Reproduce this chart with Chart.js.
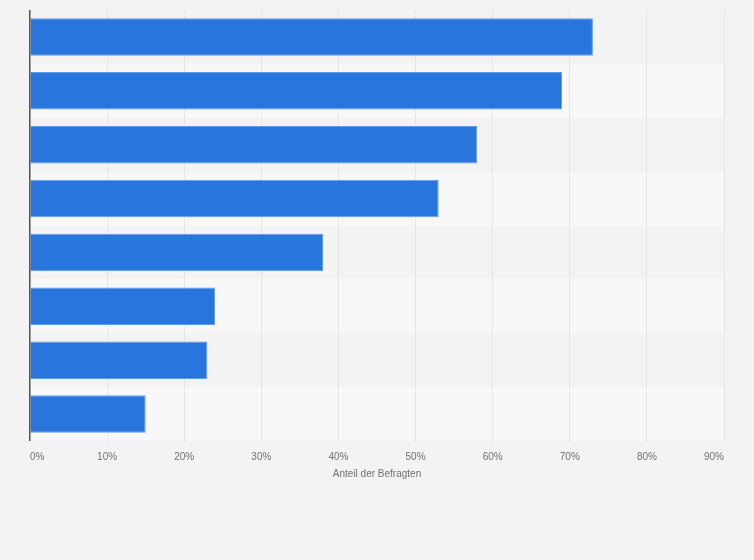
<!DOCTYPE html>
<html>
<head>
<meta charset="utf-8">
<script src="https://cdn.jsdelivr.net/npm/chart.js@4/dist/chart.umd.min.js"></script>
<style>
  html, body { margin: 0; padding: 0; background: #f3f3f3; }
  #wrap { width: 754px; height: 560px; }
</style>
</head>
<body>
<div id="wrap"><canvas id="c" width="754" height="560"></canvas></div>
<script>
const categories = ["Antwort 1", "Antwort 2", "Antwort 3", "Antwort 4", "Antwort 5", "Antwort 6", "Antwort 7", "Antwort 8"];
const values = [73, 69, 58, 53, 38, 24, 23, 15];
const tickValues = [0, 10, 20, 30, 40, 50, 60, 70, 80, 90];
const axisTitle = "Anteil der Befragten";

const bandPlugin = {
  id: 'bands',
  beforeDraw(chart) {
    const { ctx, chartArea, scales } = chart;
    const y = scales.y;
    const half = Math.abs(y.getPixelForValue(1) - y.getPixelForValue(0)) / 2;
    ctx.save();
    for (let i = 0; i < categories.length; i++) {
      if (i % 2 === 1) {
        const c = y.getPixelForValue(i);
        ctx.fillStyle = '#f8f8f8';
        ctx.fillRect(chartArea.left, c - half, chartArea.right - chartArea.left, half * 2);
      }
    }
    ctx.restore();
  },
  afterDatasetsDraw(chart) {
    const { ctx, chartArea } = chart;
    ctx.save();
    ctx.strokeStyle = '#555555';
    ctx.lineWidth = 1.5;
    ctx.beginPath();
    ctx.moveTo(chartArea.left - 0.25, chartArea.top);
    ctx.lineTo(chartArea.left - 0.25, chartArea.bottom);
    ctx.stroke();
    ctx.restore();
  }
};

new Chart(document.getElementById('c'), {
  type: 'bar',
  plugins: [bandPlugin],
  data: {
    labels: categories,
    datasets: [{
      data: values,
      backgroundColor: '#2876dd',
      borderColor: '#5e9ce9',
      borderWidth: 1,
      borderSkipped: 'start',
      barPercentage: 0.695,
      categoryPercentage: 1.0
    }]
  },
  options: {
    indexAxis: 'y',
    responsive: false,
    animation: false,
    devicePixelRatio: 1,
    layout: { padding: { left: 0, right: 30, top: 10, bottom: 0 } },
    plugins: { legend: { display: false }, tooltip: { enabled: false } },
    scales: {
      x: {
        min: 0,
        max: 90,
        afterBuildTicks(scale) { scale.ticks = tickValues.map(v => ({ value: v })); },
        afterFit(scale) { scale.height = 119; },
        grid: {
          color: '#d8d8d8',
          lineWidth: 1,
          drawTicks: false
        },
        border: { display: false, dash: [1, 1] },
        ticks: {
          align: 'inner',
          padding: 10,
          color: '#707070',
          font: { family: '"Liberation Sans", Arial, sans-serif', size: 10 },
          callback: v => v + '%'
        },
        title: {
          display: true,
          text: axisTitle,
          color: '#707070',
          font: { family: '"Liberation Sans", Arial, sans-serif', size: 10 },
          padding: { top: 4, bottom: 80 }
        }
      },
      y: {
        afterFit(scale) { scale.width = 30; },
        grid: { display: false },
        border: { display: false },
        ticks: { display: false }
      }
    }
  }
});
</script>
</body>
</html>
